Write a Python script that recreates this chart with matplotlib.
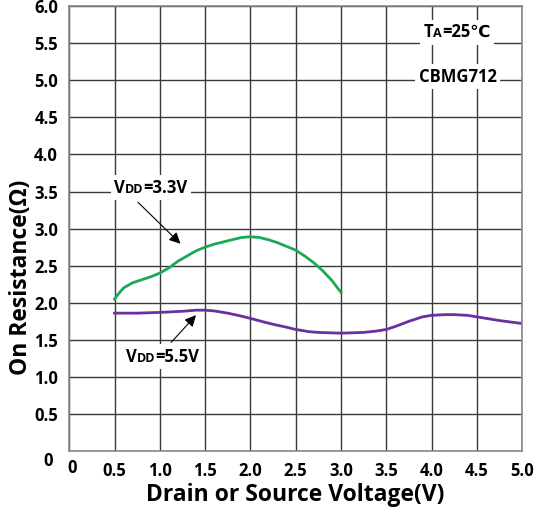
import numpy as np
import matplotlib.pyplot as plt
import matplotlib.transforms as mtransforms
from matplotlib.offsetbox import TextArea, HPacker, AnnotationBbox

# curve data
vds_33 = [0.5, 0.55, 0.6, 0.7, 0.8, 0.9, 1.0, 1.1, 1.2, 1.3, 1.4, 1.5, 1.6, 1.7, 1.8,
          1.9, 2.0, 2.1, 2.2, 2.3, 2.4, 2.5, 2.6, 2.7, 2.8, 2.9, 3.0]
ron_33 = [2.05, 2.13, 2.20, 2.27, 2.31, 2.35, 2.40, 2.47, 2.56, 2.63, 2.70, 2.75, 2.79, 2.82, 2.85,
          2.88, 2.89, 2.88, 2.85, 2.81, 2.76, 2.71, 2.63, 2.54, 2.43, 2.30, 2.14]

vds_55 = [0.5, 0.75, 1.0, 1.25, 1.4, 1.5, 1.6, 1.75, 1.9, 2.0, 2.15, 2.25, 2.4, 2.5, 2.65, 2.75,
          3.0, 3.25, 3.4, 3.5, 3.6, 3.75, 3.9, 4.0, 4.15, 4.25, 4.4, 4.5, 4.75, 5.0]
ron_55 = [1.86, 1.86, 1.87, 1.885, 1.90, 1.90, 1.89, 1.86, 1.82, 1.79, 1.74, 1.71, 1.67, 1.64, 1.61, 1.60,
          1.59, 1.60, 1.62, 1.64, 1.68, 1.75, 1.81, 1.83, 1.84, 1.84, 1.83, 1.81, 1.76, 1.72]

xticks = np.arange(0, 5.01, 0.5)
yticks = np.arange(0, 6.01, 0.5)
xlabels = ['0'] + ['%.1f' % v for v in xticks[1:]]
ylabels = ['0'] + ['%.1f' % v for v in yticks[1:]]

plt.rcParams['font.family'] = ['Open Sans', 'DejaVu Sans']
plt.rcParams['font.weight'] = 'bold'

fig = plt.figure(figsize=(5.45, 5.12), dpi=100)
ax = fig.add_axes([0.127, 0.119, 0.831, 0.869])

ax.plot(vds_33, ron_33, color='#1aaa55', lw=2)
ax.plot(vds_55, ron_55, color='#6a2fa0', lw=2)

ax.set_xlim(0, 5)
ax.set_ylim(0, 6)
ax.set_xticks(xticks)
ax.set_yticks(yticks)
ax.set_xticklabels(xlabels, fontsize=12, fontweight='bold')
ax.set_yticklabels(ylabels, fontsize=12, fontweight='bold')
ax.tick_params(length=0, pad=8)
ax.grid(True, color='#3a3a3a', lw=1)
for s in ax.spines.values():
    s.set_color('#888888')
    s.set_linewidth(1.2)

# the "0" labels sit a little off in the original
ax.get_yticklabels()[0].set_transform(ax.get_yaxis_transform(which='tick1') +
                                      mtransforms.ScaledTranslation(-0.16, -0.08, fig.dpi_scale_trans))
ax.get_xticklabels()[0].set_transform(ax.get_xaxis_transform(which='tick1') +
                                      mtransforms.ScaledTranslation(0.03, -0.08, fig.dpi_scale_trans))

ax.set_xlabel('Drain or Source Voltage(V)', fontsize=16.5, fontweight='bold', labelpad=2)
ax.set_ylabel('On Resistance(Ω)', fontsize=16.5, fontweight='bold')
ax.yaxis.set_label_coords(-0.08, 0.39)


def label(parts, xy, xytext, relpos=None):
    boxes = [TextArea(t, textprops=dict(fontsize=s, fontweight='bold', color='black')) for t, s in parts]
    pack = HPacker(children=boxes, align='baseline', pad=0, sep=0)
    arrow = None
    if relpos is not None:
        arrow = dict(arrowstyle='-|>', color='black', lw=0.8, mutation_scale=12, relpos=relpos)
    ab = AnnotationBbox(pack, xy, xybox=xytext, xycoords='data', boxcoords='data',
                        frameon=True, bboxprops=dict(fc='white', ec='none'), pad=0.25,
                        arrowprops=arrow)
    ax.add_artist(ab)


label([('V', 12), ('DD', 9), ('=3.3V', 12)], (1.25, 2.77), (0.9, 3.55), relpos=(0.25, 0))
label([('V', 12), ('DD', 9), ('=5.5V', 12)], (1.42, 1.86), (1.03, 1.27), relpos=(0.55, 1))
label([('T', 12), ('A', 9), ('=25℃', 12)], (4.28, 5.65), (4.28, 5.65))
label([('CBMG712', 12)], (4.29, 5.05), (4.29, 5.05))

fig.savefig('out.png')
